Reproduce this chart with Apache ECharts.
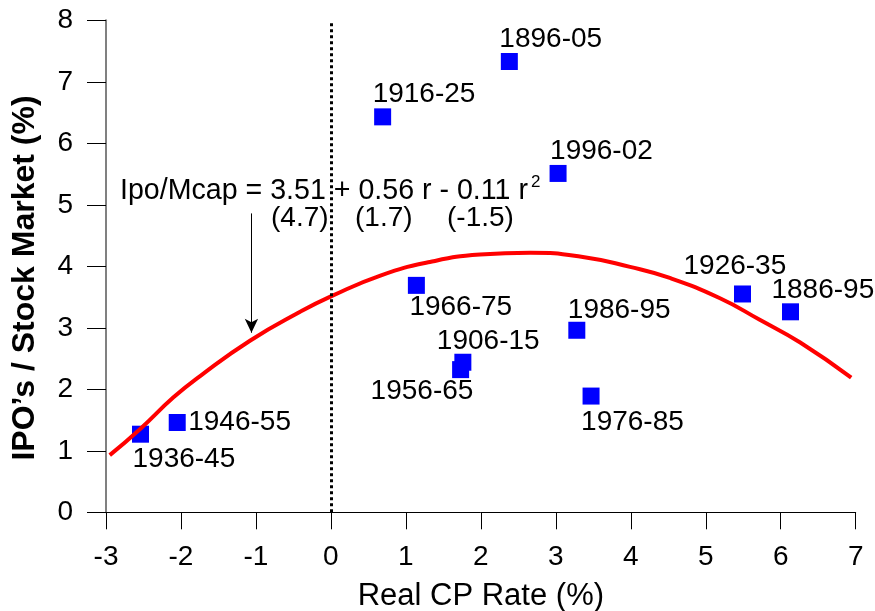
<!DOCTYPE html>
<html>
<head>
<meta charset="utf-8">
<script src="https://cdn.jsdelivr.net/npm/echarts@6/dist/echarts.min.js"></script>
<style>
html,body{margin:0;padding:0;background:#fff;}
#chart{width:875px;height:611px;}
</style>
</head>
<body>
<div id="chart"></div>
<script>
// ---- data ----
const periods  = ['1896-05','1916-25','1996-02','1966-75','1926-35','1886-95','1986-95','1906-15','1956-65','1976-85','1946-55','1936-45'];
const cpRate   = [2.38, 0.69, 3.03, 1.14, 5.49, 6.13, 3.28, 1.76, 1.73, 3.47, -2.05, -2.54];
const ipoShare = [7.33, 6.43, 5.51, 3.69, 3.55, 3.26, 2.96, 2.44, 2.32, 1.89, 1.46, 1.27];

// fitted quadratic curve
const fitX = [-2.95,-2.54,-2.10,-1.74,-1.08,-0.41,0.00,0.66,1.32,1.99,2.66,3.32,3.99,4.52,5.19,5.72,6.26,6.94];
const fitY = [0.93,1.36,1.87,2.22,2.79,3.26,3.51,3.85,4.07,4.19,4.22,4.16,3.99,3.81,3.48,3.13,2.76,2.19];

const xTickLabels = ['-3','-2','-1','0','1','2','3','4','5','6','7'];
const yTickLabels = ['0','1','2','3','4','5','6','7','8'];

const equationMain = 'Ipo/Mcap = 3.51 + 0.56 r - 0.11 r';
const equationSup = '2';
const tStats = ['(4.7)','(1.7)','(-1.5)'];

const xTitle = 'Real CP Rate (%)';
const yTitle = 'IPO\u2019s / Stock Market (%)';

// arrow annotation (data coords)
const arrowX = -1.06, arrowFromY = 4.86, arrowToY = 2.92;

// ---- layout (label offsets in px, relative to point centre) ----
const labelOffsets = [[-10,-22],[-10,-23],[-8,-22],[-7,22],[-59,-28],[-19,-22],[-9,-20],[-26,-21],[-90,22],[-10,26],[11,0],[-8,25]];
const tStatX = [271, 355, 447];

const FONT = '"Liberation Sans", Arial, Helvetica, sans-serif';

const chart = echarts.init(document.getElementById('chart'), null, {renderer:'canvas'});

const scatterData = periods.map((p, i) => ({
  name: p,
  value: [cpRate[i], ipoShare[i]],
  label: {offset: labelOffsets[i]}
}));

const fitData = fitX.map((x, i) => [x, fitY[i]]);

const graphics = [
  {type:'text', x:120, y:191, style:{text:equationMain, font:'28.6px ' + FONT, fill:'#000', verticalAlign:'middle', align:'left'}},
  {type:'text', x:531, y:182, style:{text:equationSup, font:'17px ' + FONT, fill:'#000', verticalAlign:'middle', align:'left'}},
  {type:'text', x:25, y:278, rotation:Math.PI/2, style:{text:yTitle, font:'bold 32px ' + FONT, fill:'#000', align:'center', verticalAlign:'middle'}}
];
tStats.forEach((t, i) => {
  graphics.push({type:'text', x:tStatX[i], y:218, style:{text:t, font:'28px ' + FONT, fill:'#000', verticalAlign:'middle', align:'left'}});
});

const option = {
  backgroundColor:'#fff',
  animation:false,
  textStyle:{fontFamily:FONT},
  grid:{left:106, right:19.3, top:20.3, bottom:98.7, containLabel:false, outerBoundsMode:'none'},
  xAxis:{
    type:'value', min:-3, max:7, interval:1,
    axisLine:{show:true, onZero:false, lineStyle:{color:'#000', width:1}},
    axisTick:{show:true, inside:false, length:17, lineStyle:{color:'#000', width:1}},
    splitLine:{show:false},
    axisLabel:{fontSize:28, color:'#000', margin:31, fontFamily:FONT,
      formatter:(v) => { const i = Math.round(v + 3); return xTickLabels[i] !== undefined ? xTickLabels[i] : ''; }},
    name:xTitle, nameLocation:'middle', nameGap:69,
    nameTextStyle:{fontSize:31, color:'#000', fontFamily:FONT}
  },
  yAxis:{
    type:'value', min:0, max:8, interval:1,
    axisLine:{show:true, onZero:false, lineStyle:{color:'#808080', width:2}},
    axisTick:{show:true, inside:false, length:19, lineStyle:{color:'#000', width:1}},
    splitLine:{show:false},
    axisLabel:{fontSize:28, color:'#000', margin:33, fontFamily:FONT,
      formatter:(v) => { const i = Math.round(v); return yTickLabels[i] !== undefined ? yTickLabels[i] : ''; }}
  },
  graphic:graphics,
  series:[
    {
      type:'scatter',
      z:2,
      symbol:'rect',
      symbolSize:17,
      itemStyle:{color:'#0000FF', opacity:1},
      label:{show:true, position:'inside', align:'left', verticalAlign:'middle',
        formatter:'{b}', fontSize:28, color:'#000', fontFamily:FONT, textBorderWidth:0},
      emphasis:{disabled:true},
      data:scatterData,
      markLine:{
        silent:true, symbol:['none','none'], label:{show:false},
        lineStyle:{color:'#000', width:3, type:[3,3]},
        data:[{xAxis:0}]
      }
    },
    {
      type:'line',
      z:3,
      data:fitData,
      smooth:0.5,
      showSymbol:false,
      symbol:'none',
      lineStyle:{color:'#FF0000', width:4},
      emphasis:{disabled:true},
      markLine:{
        silent:true, symbol:['none','arrow'], symbolSize:[10,14], label:{show:false},
        lineStyle:{color:'#000', width:1, type:'solid'},
        data:[[{coord:[arrowX, arrowFromY]},{coord:[arrowX, arrowToY]}]]
      }
    }
  ]
};
chart.setOption(option);
</script>
</body>
</html>
